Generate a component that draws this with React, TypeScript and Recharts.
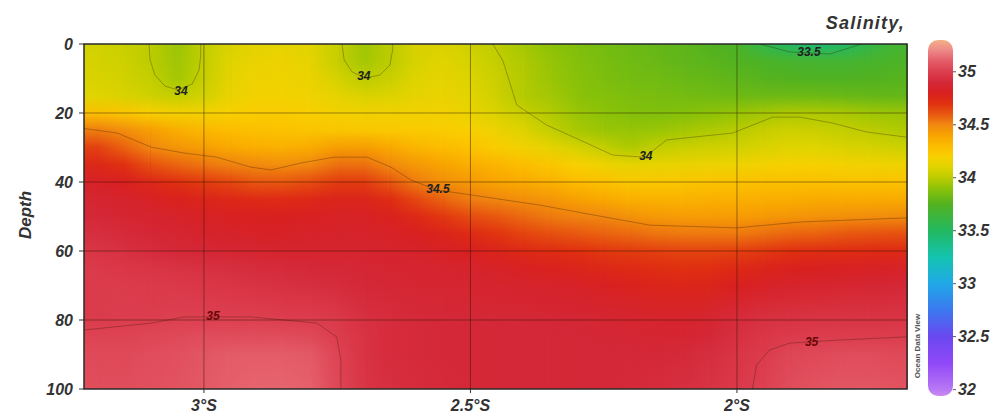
import React from 'react';
import {
  ComposedChart,
  XAxis,
  YAxis,
  ReferenceArea,
  ReferenceLine,
  Scatter,
  BarChart,
  Bar,
} from 'recharts';

// ---------- data ----------
const LONS = [-3.2, -3.15, -3.1, -3.05, -3.0, -2.95, -2.9, -2.85, -2.8, -2.75, -2.7, -2.65, -2.6, -2.55, -2.5, -2.45,
  -2.4, -2.35, -2.3, -2.25, -2.2, -2.15, -2.1, -2.05, -2.0, -1.95, -1.9, -1.85, -1.8, -1.75, -1.7];
const DEPTHS = [0, 5, 10, 15, 20, 25, 30, 35, 40, 45, 50, 55, 60, 65, 70, 80, 85, 90, 100];

const S_D0 = [34.06, 34.04, 34.0, 33.93, 34.02, 34.08, 34.12, 34.12, 34.1, 34.03, 33.94, 34.0, 34.08, 34.08, 34.05, 34.0, 33.95, 33.9, 33.87, 33.84, 33.82, 33.8, 33.78, 33.75, 33.72, 33.58, 33.48, 33.45, 33.48, 33.6, 33.68];
const S_D5 = [34.07, 34.05, 34.0, 33.94, 34.02, 34.1, 34.14, 34.15, 34.12, 34.03, 33.95, 34.0, 34.08, 34.1, 34.07, 34.02, 33.97, 33.92, 33.88, 33.85, 33.83, 33.81, 33.79, 33.77, 33.75, 33.72, 33.7, 33.68, 33.68, 33.7, 33.72];
const S_D10 = [34.08, 34.06, 34.02, 33.95, 34.03, 34.12, 34.16, 34.16, 34.14, 34.07, 34.0, 34.04, 34.1, 34.12, 34.09, 34.04, 33.98, 33.93, 33.89, 33.86, 33.84, 33.83, 33.81, 33.8, 33.78, 33.76, 33.75, 33.74, 33.74, 33.75, 33.76];
const S_D15 = [34.1, 34.08, 34.05, 34.02, 34.06, 34.14, 34.18, 34.18, 34.16, 34.12, 34.08, 34.09, 34.12, 34.14, 34.11, 34.05, 33.98, 33.95, 33.9, 33.88, 33.86, 33.85, 33.84, 33.83, 33.82, 33.82, 33.82, 33.82, 33.81, 33.8, 33.8];
const S_D20 = [34.28, 34.25, 34.2, 34.18, 34.18, 34.2, 34.22, 34.22, 34.2, 34.18, 34.17, 34.17, 34.17, 34.17, 34.14, 34.08, 34.03, 33.98, 33.93, 33.9, 33.88, 33.87, 33.88, 33.9, 33.92, 33.95, 33.97, 33.97, 33.96, 33.94, 33.93];
const S_D25 = [34.52, 34.48, 34.42, 34.36, 34.32, 34.3, 34.28, 34.27, 34.26, 34.25, 34.25, 34.24, 34.23, 34.22, 34.2, 34.15, 34.09, 34.02, 33.96, 33.93, 33.92, 33.93, 33.95, 33.97, 33.99, 34.03, 34.05, 34.04, 34.02, 34.0, 33.98];
const S_D30 = [34.66, 34.58, 34.5, 34.45, 34.42, 34.38, 34.36, 34.35, 34.37, 34.42, 34.42, 34.38, 34.33, 34.3, 34.27, 34.22, 34.17, 34.12, 34.07, 34.02, 33.97, 34.02, 34.04, 34.05, 34.06, 34.08, 34.1, 34.1, 34.08, 34.07, 34.05];
const S_D35 = [34.75, 34.7, 34.62, 34.57, 34.54, 34.51, 34.49, 34.48, 34.5, 34.55, 34.55, 34.49, 34.44, 34.4, 34.36, 34.33, 34.29, 34.25, 34.2, 34.16, 34.12, 34.13, 34.14, 34.15, 34.16, 34.18, 34.19, 34.19, 34.18, 34.17, 34.16];
const S_D40 = [34.83, 34.8, 34.75, 34.7, 34.67, 34.64, 34.6, 34.6, 34.63, 34.67, 34.67, 34.6, 34.52, 34.47, 34.44, 34.4, 34.37, 34.34, 34.3, 34.27, 34.24, 34.24, 34.25, 34.26, 34.27, 34.28, 34.28, 34.28, 34.27, 34.27, 34.27];
const S_D45 = [34.87, 34.85, 34.82, 34.79, 34.77, 34.75, 34.73, 34.73, 34.75, 34.77, 34.77, 34.72, 34.64, 34.57, 34.52, 34.5, 34.47, 34.45, 34.41, 34.38, 34.35, 34.34, 34.34, 34.35, 34.35, 34.36, 34.36, 34.37, 34.37, 34.37, 34.37];
const S_D50 = [34.9, 34.88, 34.86, 34.84, 34.82, 34.81, 34.8, 34.8, 34.81, 34.82, 34.82, 34.79, 34.74, 34.68, 34.63, 34.6, 34.56, 34.53, 34.51, 34.5, 34.46, 34.44, 34.43, 34.43, 34.43, 34.44, 34.45, 34.46, 34.47, 34.48, 34.49];
const S_D55 = [34.93, 34.91, 34.89, 34.87, 34.85, 34.84, 34.83, 34.83, 34.84, 34.84, 34.84, 34.83, 34.8, 34.77, 34.73, 34.69, 34.65, 34.62, 34.6, 34.58, 34.56, 34.54, 34.53, 34.53, 34.53, 34.55, 34.57, 34.58, 34.6, 34.61, 34.62];
const S_D60 = [34.96, 34.94, 34.92, 34.9, 34.89, 34.88, 34.87, 34.86, 34.86, 34.86, 34.86, 34.85, 34.84, 34.82, 34.8, 34.77, 34.74, 34.72, 34.7, 34.68, 34.67, 34.66, 34.65, 34.65, 34.66, 34.68, 34.7, 34.71, 34.72, 34.73, 34.74];
const S_D65 = [34.98, 34.97, 34.96, 34.95, 34.94, 34.93, 34.92, 34.91, 34.9, 34.9, 34.89, 34.88, 34.87, 34.86, 34.85, 34.83, 34.81, 34.79, 34.77, 34.75, 34.73, 34.71, 34.7, 34.71, 34.74, 34.77, 34.79, 34.8, 34.81, 34.82, 34.83];
const S_D70 = [34.99, 34.99, 34.98, 34.98, 34.97, 34.96, 34.95, 34.94, 34.93, 34.92, 34.9, 34.89, 34.88, 34.88, 34.87, 34.86, 34.85, 34.84, 34.83, 34.81, 34.79, 34.77, 34.76, 34.77, 34.8, 34.83, 34.85, 34.86, 34.87, 34.88, 34.89];
const S_D80 = [34.99, 35.0, 35.0, 35.01, 35.01, 35.01, 35.01, 35.0, 35.0, 34.98, 34.94, 34.92, 34.91, 34.9, 34.9, 34.9, 34.9, 34.89, 34.89, 34.88, 34.87, 34.86, 34.86, 34.88, 34.92, 34.94, 34.95, 34.96, 34.96, 34.96, 34.96];
const S_D85 = [35.02, 35.02, 35.03, 35.04, 35.05, 35.05, 35.05, 35.05, 35.04, 35.0, 34.95, 34.92, 34.91, 34.9, 34.9, 34.9, 34.9, 34.9, 34.9, 34.89, 34.89, 34.88, 34.88, 34.9, 34.94, 34.97, 34.99, 35.0, 35.0, 35.0, 35.0];
const S_D90 = [35.04, 35.04, 35.05, 35.06, 35.08, 35.1, 35.1, 35.1, 35.09, 35.02, 34.95, 34.92, 34.91, 34.9, 34.9, 34.9, 34.9, 34.9, 34.9, 34.9, 34.9, 34.9, 34.91, 34.93, 34.96, 34.99, 35.03, 35.04, 35.05, 35.05, 35.04];
const S_D100 = [35.05, 35.05, 35.06, 35.07, 35.09, 35.11, 35.12, 35.12, 35.11, 35.03, 34.96, 34.93, 34.92, 34.91, 34.9, 34.9, 34.9, 34.9, 34.9, 34.9, 34.91, 34.92, 34.93, 34.95, 34.98, 35.01, 35.05, 35.07, 35.08, 35.08, 35.07];

const SALINITY_ROWS = [S_D0, S_D5, S_D10, S_D15, S_D20, S_D25, S_D30, S_D35, S_D40, S_D45, S_D50, S_D55,
  S_D60, S_D65, S_D70, S_D80, S_D85, S_D90, S_D100];

// ODV-like colour palette
const CMAP_VALUES = [31.94, 32.0, 32.25, 32.5, 32.75, 33.0, 33.25, 33.5, 33.75, 33.9, 34.0, 34.1, 34.2, 34.3, 34.4,
  34.5, 34.6, 34.7, 34.8, 34.9, 35.0, 35.1, 35.2, 35.3];
const CMAP_COLORS = ['#c88cf0', '#b878f5', '#9048f8', '#6a48f0', '#3c78f0', '#20a8e8', '#14c4b0', '#22b860',
  '#52b220', '#8cc208', '#bccc00', '#e0d400', '#f8d000', '#fcbc00', '#f8a400', '#f08810', '#e85810', '#e03010',
  '#d82020', '#d42838', '#dc3e4e', '#e45c68', '#ec8888', '#f4b088'];

const X_TICKS = [-3, -2.5, -2];
const Y_TICKS = [0, 20, 40, 60, 80, 100];
const CB_TICKS = [32, 32.5, 33, 33.5, 34, 34.5, 35];
const CB_DATA = [{ name: 'Salinity', range: [31.94, 35.3] }];

// contour lines (lon, depth)
const CONTOUR_34_A = [
  { lon: -3.103, depth: 0 }, { lon: -3.101, depth: 4.6 }, { lon: -3.092, depth: 9.0 }, { lon: -3.073, depth: 12.2 },
  { lon: -3.049, depth: 13.3 }, { lon: -3.022, depth: 11.6 }, { lon: -3.009, depth: 7.5 }, { lon: -3.006, depth: 3.2 },
  { lon: -3.006, depth: 0 },
];
const CONTOUR_34_B = [
  { lon: -2.741, depth: 0 }, { lon: -2.737, depth: 4.6 }, { lon: -2.722, depth: 8.1 }, { lon: -2.698, depth: 9.9 },
  { lon: -2.67, depth: 9.0 }, { lon: -2.651, depth: 6.1 }, { lon: -2.646, depth: 1.7 }, { lon: -2.646, depth: 0 },
];
const CONTOUR_34_C = [
  { lon: -2.458, depth: 0 }, { lon: -2.439, depth: 4.9 }, { lon: -2.413, depth: 17.7 }, { lon: -2.357, depth: 23.5 },
  { lon: -2.295, depth: 27.8 }, { lon: -2.233, depth: 32.2 }, { lon: -2.173, depth: 32.8 }, { lon: -2.132, depth: 27.8 },
  { lon: -2.008, depth: 25.8 }, { lon: -1.933, depth: 21.2 }, { lon: -1.882, depth: 21.2 }, { lon: -1.821, depth: 22.9 },
  { lon: -1.757, depth: 25.5 }, { lon: -1.682, depth: 27 },
];
const CONTOUR_345 = [
  { lon: -3.225, depth: 24.5 }, { lon: -3.163, depth: 25.8 }, { lon: -3.099, depth: 29.9 }, { lon: -3.037, depth: 31.6 },
  { lon: -2.976, depth: 32.8 }, { lon: -2.912, depth: 35.7 }, { lon: -2.874, depth: 36.5 }, { lon: -2.818, depth: 34.5 },
  { lon: -2.756, depth: 32.8 }, { lon: -2.694, depth: 32.8 }, { lon: -2.649, depth: 35.7 }, { lon: -2.612, depth: 39.4 },
  { lon: -2.563, depth: 42.3 }, { lon: -2.475, depth: 44.3 }, { lon: -2.37, depth: 46.7 }, { lon: -2.257, depth: 49.9 },
  { lon: -2.164, depth: 52.5 }, { lon: -2.001, depth: 53.3 }, { lon: -1.882, depth: 51.6 }, { lon: -1.682, depth: 50.4 },
];
const CONTOUR_35_A = [
  { lon: -3.225, depth: 82.9 }, { lon: -3.099, depth: 80.9 }, { lon: -3.037, depth: 79.1 }, { lon: -2.912, depth: 79.1 },
  { lon: -2.788, depth: 80.9 }, { lon: -2.751, depth: 84.9 }, { lon: -2.743, depth: 91.6 }, { lon: -2.743, depth: 100 },
];
const CONTOUR_35_B = [
  { lon: -1.971, depth: 100 }, { lon: -1.963, depth: 93 }, { lon: -1.939, depth: 88.7 }, { lon: -1.901, depth: 86.7 },
  { lon: -1.807, depth: 85.8 }, { lon: -1.682, depth: 84.9 },
];
const CONTOUR_335 = [
  { lon: -1.957, depth: 0 }, { lon: -1.901, depth: 2.3 }, { lon: -1.826, depth: 2.9 }, { lon: -1.766, depth: 0 },
];
const CONTOURS = [CONTOUR_34_A, CONTOUR_34_B, CONTOUR_34_C, CONTOUR_345, CONTOUR_35_A, CONTOUR_35_B, CONTOUR_335];

const CONTOUR_LABELS = [
  { lon: -3.043, depth: 13.6, text: '34' },
  { lon: -2.7, depth: 9.3, text: '34' },
  { lon: -2.561, depth: 42, text: '34.5' },
  { lon: -2.171, depth: 32.5, text: '34' },
  { lon: -1.865, depth: 2.3, text: '33.5' },
  { lon: -2.983, depth: 78.8, text: '35' },
  { lon: -1.86, depth: 86.4, text: '35' },
];

// ---------- layout ----------
const X_MIN = -3.225;
const X_MAX = -1.681;
const FONT = "'Liberation Sans', Arial, Helvetica, sans-serif";

function hexToRgb(h: string) {
  const n = parseInt(h.slice(1), 16);
  return [(n >> 16) & 255, (n >> 8) & 255, n & 255];
}
function salColor(v: number) {
  if (v <= CMAP_VALUES[0]) return CMAP_COLORS[0];
  for (let i = 0; i < CMAP_VALUES.length - 1; i++) {
    if (v <= CMAP_VALUES[i + 1]) {
      const t = (v - CMAP_VALUES[i]) / (CMAP_VALUES[i + 1] - CMAP_VALUES[i]);
      const a = hexToRgb(CMAP_COLORS[i]);
      const b = hexToRgb(CMAP_COLORS[i + 1]);
      const c = a.map((x, k) => Math.round(x + (b[k] - x) * t));
      return `rgb(${c[0]},${c[1]},${c[2]})`;
    }
  }
  return CMAP_COLORS[CMAP_COLORS.length - 1];
}

const stripShape = (i: number, j: number) => (p: any) => {
  const { x, y, width, height } = p;
  return (
    <g>
      <rect x={x} y={y} width={width + 1} height={height} fill={`url(#col-${i})`} />
      {j !== i && (
        <rect x={x} y={y} width={width} height={height} fill={`url(#col-${j})`} mask="url(#hramp)" />
      )}
    </g>
  );
};

const LabelShape = (p: any) => {
  const t = p.payload?.text ?? '';
  const is35 = t === '35';
  return (
    <text
      x={p.cx}
      y={p.cy}
      textAnchor="middle"
      dominantBaseline="central"
      fontFamily={FONT}
      fontSize={12}
      fontStyle="italic"
      fontWeight="bold"
      fill={is35 ? '#6a0808' : '#222'}
    >
      {t}
    </text>
  );
};

const tickStyle = { fontSize: 16, fontStyle: 'italic', fontWeight: 'bold', fill: '#333', fontFamily: FONT } as any;

export default function App() {
  const strips: any[] = [];
  strips.push({ x1: X_MIN, x2: LONS[0], i: 0, j: 0 });
  for (let i = 0; i < LONS.length - 1; i++) strips.push({ x1: LONS[i], x2: LONS[i + 1], i, j: i + 1 });
  strips.push({ x1: LONS[LONS.length - 1], x2: X_MAX, i: LONS.length - 1, j: LONS.length - 1 });

  return (
    <div style={{ position: 'absolute', left: 0, top: 0, width: 994, height: 418, background: '#fff', fontFamily: FONT }}>
      <svg width={0} height={0} style={{ position: 'absolute' }}>
        <defs>
          {LONS.map((_, i) => (
            <linearGradient key={i} id={`col-${i}`} x1="0" y1="0" x2="0" y2="1">
              {DEPTHS.map((d, j) => (
                <stop key={j} offset={d / 100} stopColor={salColor(SALINITY_ROWS[j][i])} />
              ))}
            </linearGradient>
          ))}
          <linearGradient id="hrampGrad" x1="0" y1="0" x2="1" y2="0">
            <stop offset="0" stopColor="#fff" stopOpacity={0} />
            <stop offset="1" stopColor="#fff" stopOpacity={1} />
          </linearGradient>
          <mask id="hramp" maskContentUnits="objectBoundingBox">
            <rect x="0" y="0" width="1" height="1" fill="url(#hrampGrad)" />
          </mask>
          <linearGradient id="cbgrad" x1="0" y1="0" x2="0" y2="1">
            {[...CMAP_VALUES].reverse().map((v, k) => (
              <stop key={k} offset={(35.3 - v) / (35.3 - 31.94)} stopColor={salColor(v)} />
            ))}
          </linearGradient>
        </defs>
      </svg>

      <div style={{ position: 'absolute', left: 0, top: 0 }}>
        <ComposedChart width={994} height={418} margin={{ top: 44, right: 87, bottom: 4, left: 44 }}>
          <XAxis
            type="number"
            dataKey="lon"
            domain={[X_MIN, X_MAX]}
            allowDataOverflow
            ticks={X_TICKS}
            tickFormatter={(v: number) => `${Math.abs(v)}°S`}
            axisLine={false}
            tickLine={{ stroke: '#333' }}
            tickSize={4}
            tickMargin={7}
            height={25}
            tick={tickStyle}
          />
          <YAxis
            type="number"
            dataKey="depth"
            domain={[0, 100]}
            reversed
            allowDataOverflow
            ticks={Y_TICKS}
            axisLine={false}
            tickLine={{ stroke: '#333' }}
            tickSize={5}
            tickMargin={6}
            width={40}
            tick={tickStyle}
          />
          {strips.map((s, k) => (
            <ReferenceArea
              key={`s${k}`}
              x1={s.x1}
              x2={s.x2}
              y1={0}
              y2={100}
              ifOverflow="visible"
              shape={stripShape(s.i, s.j)}
            />
          ))}
          {X_TICKS.map((t) => (
            <ReferenceLine key={`gx${t}`} x={t} stroke="rgba(40,20,0,0.45)" strokeWidth={1} />
          ))}
          {Y_TICKS.slice(1, -1).map((t) => (
            <ReferenceLine key={`gy${t}`} y={t} stroke="rgba(40,20,0,0.45)" strokeWidth={1} />
          ))}
          <ReferenceArea
            x1={X_MIN}
            x2={X_MAX}
            y1={0}
            y2={100}
            ifOverflow="visible"
            fill="none"
            fillOpacity={0}
            stroke="#2a2a2a"
            strokeWidth={1.5}
          />
          {CONTOURS.map((c, k) => (
            <Scatter
              key={`c${k}`}
              data={c}
              line={{ stroke: 'rgba(40,20,0,0.3)', strokeWidth: 1 }}
              lineType="joint"
              shape={() => <g />}
              isAnimationActive={false}
            />
          ))}
          <Scatter data={CONTOUR_LABELS} shape={LabelShape} isAnimationActive={false} />
        </ComposedChart>
      </div>

      <div style={{ position: 'absolute', left: 900, top: 0 }}>
        <BarChart width={94} height={418} data={CB_DATA} margin={{ top: 40, right: 0, bottom: 22, left: 28 }} barCategoryGap={0}>
          <XAxis dataKey="name" hide />
          <YAxis
            orientation="right"
            type="number"
            domain={[31.94, 35.3]}
            allowDataOverflow
            ticks={CB_TICKS}
            axisLine={false}
            tickLine={{ stroke: '#555' }}
            tickSize={3}
            tickMargin={2}
            width={41}
            tick={tickStyle}
          />
          <Bar dataKey="range" fill="url(#cbgrad)" radius={10} isAnimationActive={false} />
        </BarChart>
      </div>

      <svg width={994} height={418} style={{ position: 'absolute', left: 0, top: 0, pointerEvents: 'none' }}>
        <text x={905} y={29} textAnchor="end" fontFamily={FONT} fontSize={18} fontWeight="bold" fontStyle="italic"
          fill="#333" letterSpacing={1.2}>Salinity,</text>
        <text transform="translate(31,215) rotate(-90)" textAnchor="middle" fontFamily={FONT} fontSize={17}
          fontWeight="bold" fontStyle="italic" fill="#333">Depth</text>
        <text transform="translate(918,346) rotate(-90)" textAnchor="middle" dominantBaseline="middle"
          fontFamily={FONT} fontSize={8} fontWeight="bold" fill="#555">Ocean Data View</text>
      </svg>
    </div>
  );
}
